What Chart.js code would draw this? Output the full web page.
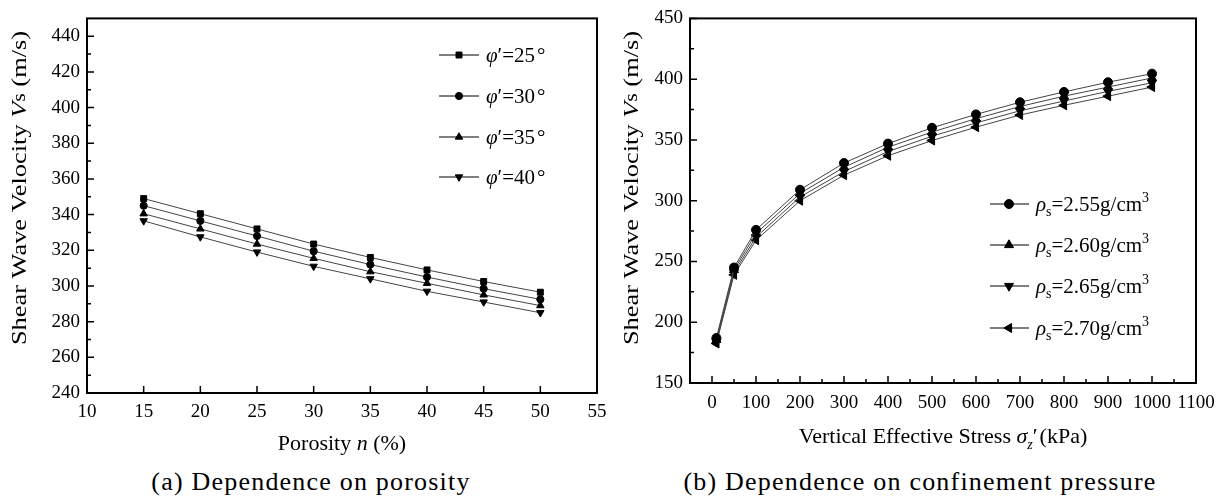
<!DOCTYPE html>
<html>
<head>
<meta charset="utf-8">
<script src="https://cdn.jsdelivr.net/npm/chart.js@4.4.0/dist/chart.umd.min.js"></script>
<style>
  body { margin: 0; background: #fff; }
  #wrap { position: relative; width: 1225px; height: 499px; overflow: hidden; }
  canvas { position: absolute; top: 0; }
  #ca { left: 0; }
  #cb { left: 615px; }
  .cap { position: absolute; top: 467px; font-family: "Liberation Serif", "Times New Roman", serif;
         font-size: 26px; letter-spacing: 1.2px; color: #000; white-space: nowrap; transform: translateX(-50%); }
</style>
</head>
<body>
<div id="wrap">
  <canvas id="ca" width="615" height="460"></canvas>
  <canvas id="cb" width="610" height="460"></canvas>
  <div class="cap" style="left:311px">(a) Dependence on porosity</div>
  <div class="cap" style="left:920px">(b) Dependence on confinement pressure</div>
</div>
<script>
// --- (a) porosity ---
const porosity = [15, 20, 25, 30, 35, 40, 45, 50];
const vsPhi25 = [349, 340.5, 332, 323.5, 316, 309, 302.5, 296.5];
const vsPhi30 = [345, 336.5, 328, 319.5, 312, 305, 298.5, 292.5];
const vsPhi35 = [340.5, 332, 323.5, 315.5, 308, 301.5, 295, 289];
const vsPhi40 = [336.5, 327.5, 319, 311, 304, 297, 291, 285];
const phiLabels = ["25", "30", "35", "40"];
const aXTicks = [10, 15, 20, 25, 30, 35, 40, 45, 50, 55];
const aYTicks = [240, 260, 280, 300, 320, 340, 360, 380, 400, 420, 440];
const aYMinor = [250, 270, 290, 310, 330, 350, 370, 390, 410, 430];

// --- (b) confinement ---
const stress = [10, 50, 100, 200, 300, 400, 500, 600, 700, 800, 900, 1000];
const vsRho255 = [187, 245, 276, 309, 331, 347, 360, 371, 381, 389.5, 397.5, 404.5];
const vsRho260 = [185.5, 243, 273, 306, 327.5, 344, 356.5, 367.5, 377.5, 386, 393.5, 401];
const vsRho265 = [184, 241, 270, 303, 324, 340.5, 353, 364, 374, 382, 390, 397];
const vsRho270 = [182.5, 239, 267.5, 300, 321, 337, 349.5, 360.5, 370.5, 378.5, 386, 393.5];
const rhoLabels = ["2.55", "2.60", "2.65", "2.70"];
const bXTicks = [0, 100, 200, 300, 400, 500, 600, 700, 800, 900, 1000, 1100];
const bXMinor = [50, 150, 250, 350, 450, 550, 650, 750, 850, 950, 1050];
const bYTicks = [150, 200, 250, 300, 350, 400, 450];
const bYMinor = [175, 225, 275, 325, 375, 425];

const FONT = '"Liberation Serif", "Times New Roman", serif';
Chart.defaults.font.family = FONT;
Chart.defaults.font.size = 19;
Chart.defaults.color = "#000";

const f = (size, it) => (it ? "italic " : "") + size + "px " + FONT;

// draws text made of several runs (italic, sub/superscript); sx stretches along the text direction
function drawRich(ctx, segs, x, y, align, rot, sx) {
  ctx.save();
  ctx.translate(x, y);
  if (rot) ctx.rotate(rot);
  if (sx) ctx.scale(sx, 1);
  ctx.textBaseline = "middle";
  ctx.textAlign = "left";
  let w = 0;
  segs.forEach(s => { ctx.font = s.font; w += ctx.measureText(s.t).width + (s.gap || 0); });
  let cx = align === "center" ? -w / 2 : 0;
  segs.forEach(s => {
    ctx.font = s.font;
    ctx.fillStyle = "#000";
    ctx.fillText(s.t, cx, s.dy || 0);
    cx += ctx.measureText(s.t).width + (s.gap || 0);
  });
  ctx.restore();
}

function marker(ctx, style, rot, r, x, y) {
  ctx.save();
  ctx.fillStyle = "#000";
  ctx.strokeStyle = "#000";
  ctx.lineWidth = 1;
  Chart.helpers.drawPoint(ctx, { pointStyle: style, rotation: rot, radius: r, borderWidth: 1 }, x, y);
  ctx.restore();
}

function framePlugin(c) {
  return {
    id: "frame",
    afterDraw(chart) {
      const ctx = chart.ctx, a = chart.chartArea;
      const xs = chart.scales.x, ys = chart.scales.y;
      ctx.save();
      ctx.strokeStyle = "#000";
      ctx.lineWidth = 1.5;
      ctx.beginPath();
      c.xMajor.forEach(v => { const p = xs.getPixelForValue(v); ctx.moveTo(p, a.bottom); ctx.lineTo(p, a.bottom - 7); });
      c.xMinor.forEach(v => { const p = xs.getPixelForValue(v); ctx.moveTo(p, a.bottom); ctx.lineTo(p, a.bottom - 4); });
      c.yMajor.forEach(v => { const p = ys.getPixelForValue(v); ctx.moveTo(a.left, p); ctx.lineTo(a.left + 7, p); });
      c.yMinor.forEach(v => { const p = ys.getPixelForValue(v); ctx.moveTo(a.left, p); ctx.lineTo(a.left + 4, p); });
      ctx.stroke();
      ctx.lineWidth = 2;
      ctx.strokeRect(a.left, a.top, a.right - a.left, a.bottom - a.top);
      ctx.restore();

      drawRich(ctx, c.xTitle, c.xTitlePos[0], c.xTitlePos[1], "center", 0);
      drawRich(ctx, c.yTitle, c.yTitlePos[0], c.yTitlePos[1], "center", -Math.PI / 2, 1.2);

      const L = c.legend;
      L.items.forEach((it, i) => {
        const y = L.ys[i];
        ctx.save();
        ctx.strokeStyle = "#000";
        ctx.lineWidth = 1;
        ctx.beginPath();
        ctx.moveTo(L.x1, y); ctx.lineTo(L.x2, y);
        ctx.stroke();
        ctx.restore();
        marker(ctx, it.style, it.rot, it.r, L.mx, y);
        drawRich(ctx, it.segs, L.tx, y + 1, "left", 0);
      });
    }
  };
}

function series(xv, yv, style, rot, r) {
  return {
    data: xv.map((x, i) => ({ x: x, y: yv[i] })),
    borderColor: "#444", borderWidth: 1, tension: 0,
    pointStyle: style, rotation: rot, pointRadius: r,
    pointBackgroundColor: "#000", pointBorderColor: "#000", pointBorderWidth: 1
  };
}

function axes(xr, yr, xt, yt, yWidth, xHeight, xPad, yPad) {
  return {
    x: {
      type: "linear", min: xr[0], max: xr[1],
      afterBuildTicks: s => { s.ticks = xt.map(v => ({ value: v })); },
      afterFit: s => { s.height = xHeight; },
      ticks: { autoSkip: false, maxRotation: 0, padding: xPad, callback: v => String(v) },
      grid: { display: false, drawTicks: false }, border: { display: false }
    },
    y: {
      type: "linear", min: yr[0], max: yr[1],
      afterBuildTicks: s => { s.ticks = yt.map(v => ({ value: v })); },
      afterFit: s => { s.width = yWidth; },
      ticks: { autoSkip: false, padding: yPad, callback: v => String(v) },
      grid: { display: false, drawTicks: false }, border: { display: false }
    }
  };
}

const base = {
  responsive: false, animation: false, devicePixelRatio: 1,
  plugins: { legend: { display: false }, tooltip: { enabled: false } }
};

// chart (a)
const phiSegs = lbl => [
  { t: "\u03C6", font: f(21, true) }, { t: "\u2032=" + lbl, font: f(21), gap: 2 }, { t: "\u00B0", font: f(21) }
];
new Chart(document.getElementById("ca"), {
  type: "line",
  data: {
    datasets: [
      series(porosity, vsPhi25, "rect", 0, 4.2),
      series(porosity, vsPhi30, "circle", 0, 3.6),
      series(porosity, vsPhi35, "triangle", 0, 4.3),
      series(porosity, vsPhi40, "triangle", 180, 4.3)
    ]
  },
  options: Object.assign({}, base, {
    layout: { padding: { left: 0, top: 11, right: 18, bottom: 0 } },
    scales: axes([10, 55], [240, 450], aXTicks, aYTicks, 87, 67, 8, 7)
  }),
  plugins: [framePlugin({
    xMajor: aXTicks, xMinor: [], yMajor: aYTicks, yMinor: aYMinor,
    xTitle: [{ t: "Porosity ", font: f(22) }, { t: "n", font: f(22, true) }, { t: " (%)", font: f(22) }],
    xTitlePos: [342, 444],
    yTitle: [{ t: "Shear Wave Velocity ", font: f(22) }, { t: "V", font: f(22, true) },
             { t: "s", font: f(18) }, { t: " (m/s)", font: f(22) }],
    yTitlePos: [20, 188],
    legend: {
      x1: 439, x2: 479, mx: 459, tx: 486, ys: [55, 96, 137, 177],
      items: [
        { style: "rect", rot: 0, r: 4.2, segs: phiSegs(phiLabels[0]) },
        { style: "circle", rot: 0, r: 3.6, segs: phiSegs(phiLabels[1]) },
        { style: "triangle", rot: 0, r: 4.3, segs: phiSegs(phiLabels[2]) },
        { style: "triangle", rot: 180, r: 4.3, segs: phiSegs(phiLabels[3]) }
      ]
    }
  })]
});

// chart (b)
const rhoSegs = lbl => [
  { t: "\u03C1", font: f(21, true) }, { t: "s", font: f(14), dy: 7 },
  { t: "=" + lbl + "g/cm", font: f(21) }, { t: "3", font: f(14), dy: -7 }
];
new Chart(document.getElementById("cb"), {
  type: "line",
  data: {
    datasets: [
      series(stress, vsRho255, "circle", 0, 4.5),
      series(stress, vsRho260, "triangle", 0, 5.2),
      series(stress, vsRho265, "triangle", 180, 5.2),
      series(stress, vsRho270, "triangle", 270, 5.2)
    ]
  },
  options: Object.assign({}, base, {
    layout: { padding: { left: 0, top: 10, right: 29, bottom: 0 } },
    scales: axes([-50, 1100], [150, 450], bXTicks, bYTicks, 75, 77, 9, 7)
  }),
  plugins: [framePlugin({
    xMajor: bXTicks, xMinor: bXMinor, yMajor: bYTicks, yMinor: bYMinor,
    xTitle: [{ t: "Vertical Effective Stress ", font: f(22) }, { t: "\u03C3", font: f(22, true) },
             { t: "z", font: f(14, true), dy: 8 }, { t: "\u2032", font: f(22), gap: 2 }, { t: "(kPa)", font: f(22) }],
    xTitlePos: [328, 437],
    yTitle: [{ t: "Shear Wave Velocity ", font: f(22) }, { t: "V", font: f(22, true) },
             { t: "s", font: f(18) }, { t: " (m/s)", font: f(22) }],
    yTitlePos: [17, 188],
    legend: {
      x1: 375, x2: 414, mx: 394, tx: 421, ys: [204, 245, 286, 328],
      items: [
        { style: "circle", rot: 0, r: 4.5, segs: rhoSegs(rhoLabels[0]) },
        { style: "triangle", rot: 0, r: 5.2, segs: rhoSegs(rhoLabels[1]) },
        { style: "triangle", rot: 180, r: 5.2, segs: rhoSegs(rhoLabels[2]) },
        { style: "triangle", rot: 270, r: 5.2, segs: rhoSegs(rhoLabels[3]) }
      ]
    }
  })]
});
</script>
</body>
</html>
